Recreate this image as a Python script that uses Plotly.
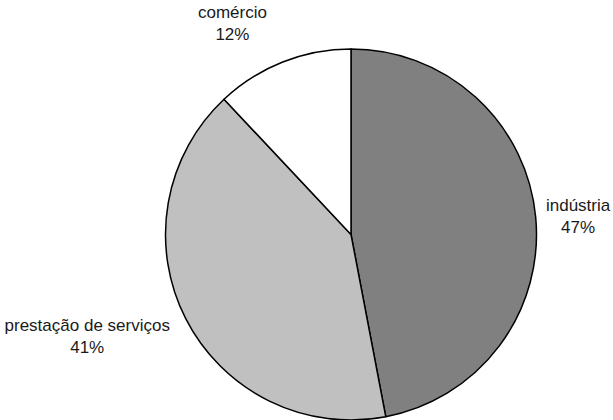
import plotly.graph_objects as go

labels = ["indústria", "prestação de serviços", "comércio"]
values = [47, 41, 12]
colors = ["#808080", "#C0C0C0", "#FFFFFF"]
templates = ["%{label}<br>%{percent:.0%}",
             " <br>%{label}<br>%{percent:.0%}",
             "%{label}<br>%{percent:.0%}<br> "]

W, H = 613, 420
cx = 351 / W
fig = go.Figure(go.Pie(
    labels=labels, values=values, sort=False, direction="clockwise", rotation=0,
    marker=dict(colors=colors, line=dict(color="#000000", width=1.5)),
    texttemplate=templates, textposition="outside",
    textfont=dict(family="Liberation Sans, Arial", size=17, color="#1a1a1a"),
    showlegend=False, automargin=False,
    domain=dict(x=[cx - 0.31, cx + 0.31], y=[0, 1]),
    hoverinfo="label+percent",
))
fig.update_layout(width=W, height=H, margin=dict(l=0, r=0, t=49, b=0),
                  paper_bgcolor="white", plot_bgcolor="white")
fig.write_html("out.html")
